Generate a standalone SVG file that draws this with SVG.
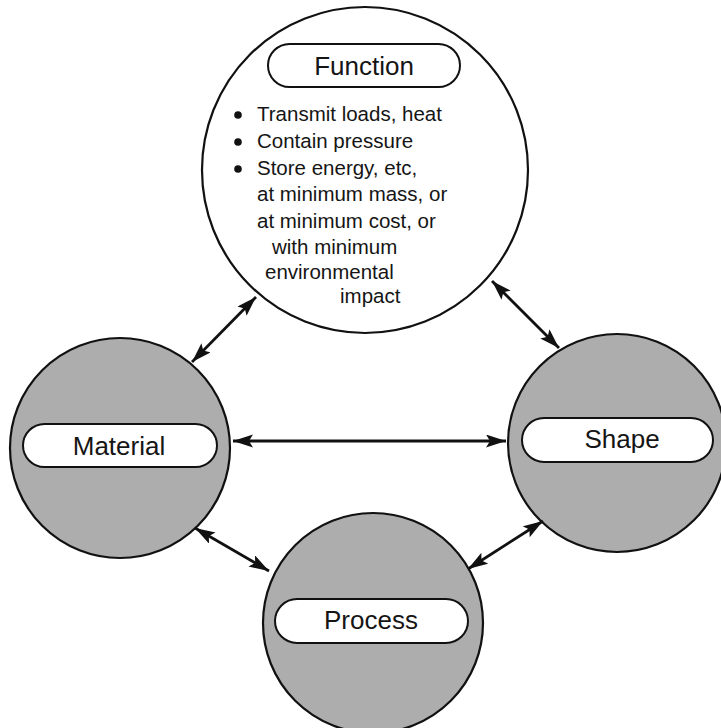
<svg xmlns="http://www.w3.org/2000/svg" width="721" height="728" viewBox="0 0 721 728">
<style>
.big{fill:#fff;stroke:#111;stroke-width:2.2}
.node{fill:#adadad;stroke:#111;stroke-width:2.2}
.pill{fill:#fff;stroke:#111;stroke-width:2}
.lbl{font-family:"Liberation Sans",Arial,sans-serif;font-size:26px;fill:#151515;text-anchor:middle}
.txt{font-family:"Liberation Sans",Arial,sans-serif;font-size:20.5px;fill:#151515}
.con{stroke:#111;stroke-width:2.8;fill:none;marker-start:url(#ah);marker-end:url(#ah)}
</style>
<defs>
<marker id="ah" markerUnits="userSpaceOnUse" markerWidth="22" markerHeight="14" refX="20" refY="6.5" orient="auto-start-reverse">
<path d="M0,0 L20,6.5 L0,13 L4,6.5 z" fill="#111"/>
</marker>
</defs>
<rect width="721" height="728" fill="#fff"/>
<g id="function">
<circle class="big" cx="365" cy="170" r="163"/>
<rect class="pill" x="268" y="44" width="192" height="43" rx="21.5"/>
<text class="lbl" x="364" y="75">Function</text>
<circle cx="238" cy="115" r="3.8" fill="#111"/>
<circle cx="238" cy="142" r="3.8" fill="#111"/>
<circle cx="238" cy="169" r="3.8" fill="#111"/>
<text class="txt" x="257" y="121">Transmit loads, heat</text>
<text class="txt" x="257" y="148">Contain pressure</text>
<text class="txt" x="257" y="175">Store energy, etc,</text>
<text class="txt" x="257" y="201">at minimum mass, or</text>
<text class="txt" x="257" y="228">at minimum cost, or</text>
<text class="txt" x="272" y="254">with minimum</text>
<text class="txt" x="265" y="279">environmental</text>
<text class="txt" x="340" y="303">impact</text>
</g>
<g id="material">
<circle class="node" cx="120" cy="448" r="110"/>
<rect class="pill" x="23" y="424" width="194" height="43" rx="21.5"/>
<text class="lbl" x="119" y="455">Material</text>
</g>
<g id="shape">
<circle class="node" cx="617" cy="443" r="109"/>
<rect class="pill" x="522" y="418" width="191" height="44" rx="22"/>
<text class="lbl" x="622" y="448">Shape</text>
</g>
<g id="process">
<circle class="node" cx="373" cy="623" r="110"/>
<rect class="pill" x="275" y="599" width="193" height="44" rx="22"/>
<text class="lbl" x="371" y="629">Process</text>
</g>
<g id="connectors">
<line class="con" x1="256" y1="297" x2="192" y2="362"/>
<line class="con" x1="492" y1="281" x2="559" y2="348"/>
<line class="con" x1="233" y1="441" x2="506" y2="441"/>
<line class="con" x1="195" y1="528" x2="269" y2="571"/>
<line class="con" x1="468" y1="569" x2="543" y2="521"/>
</g>
</svg>
